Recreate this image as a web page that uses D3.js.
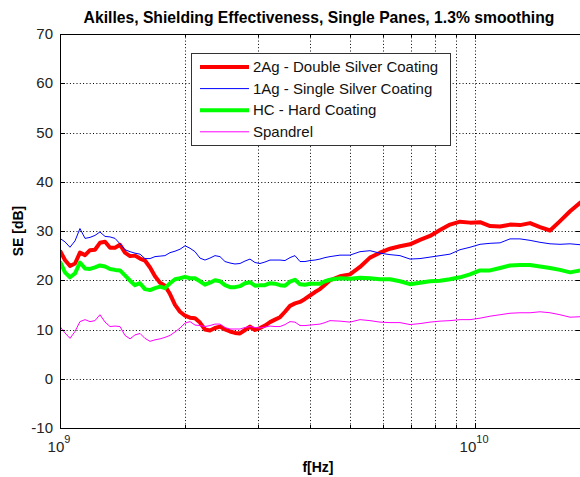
<!DOCTYPE html>
<html>
<head>
<meta charset="utf-8">
<script src="https://cdn.jsdelivr.net/npm/d3@7/dist/d3.min.js"></script>
<style>
  body { margin: 0; background: #fff; }
  svg { display: block; font-family: Arial, "Liberation Sans", sans-serif; }
</style>
</head>
<body>
<div id="chart"></div>
<script>
// frequency samples in GHz (shared by all four traces)
const freqGHz = [1.000, 1.028, 1.057, 1.087, 1.117, 1.149, 1.181, 1.214, 1.248, 1.284,
  1.320, 1.357, 1.395, 1.434, 1.475, 1.516, 1.559, 1.602, 1.648, 1.694,
  1.742, 1.790, 1.841, 1.893, 1.946, 2.001, 2.057, 2.115, 2.174, 2.235,
  2.298, 2.363, 2.429, 2.498, 2.568, 2.640, 2.714, 2.791, 2.869, 2.950,
  3.033, 3.118, 3.206, 3.296, 3.389, 3.484, 3.582, 3.683, 3.786, 3.893,
  4.002, 4.115, 4.230, 4.349, 4.472, 4.727, 4.997, 5.282, 5.583, 5.902,
  6.238, 6.594, 6.971, 7.368, 7.789, 8.233, 8.703, 9.200, 9.724, 10.28,
  10.87, 11.49, 12.14, 12.83, 13.57, 14.34, 15.16, 16.02, 16.94, 18.00];

// SE [dB] per coating
const se2Ag = [26.0, 24.1, 22.9, 23.4, 25.6, 25.1, 26.1, 26.2, 27.6, 27.8,
  26.6, 26.6, 27.2, 25.6, 24.9, 25.0, 24.4, 24.0, 22.6, 20.8,
  19.5, 18.9, 17.2, 15.0, 13.6, 12.8, 12.4, 12.3, 11.4, 10.0,
  9.8, 10.3, 10.6, 10.0, 9.6, 9.3, 9.2, 9.9, 10.6, 9.9,
  10.3, 10.8, 11.5, 12.0, 12.5, 13.6, 14.8, 15.3, 15.6, 16.2,
  16.9, 17.6, 18.2, 19.1, 20.0, 20.8, 21.2, 22.7, 24.6, 25.6,
  26.4, 26.9, 27.3, 28.2, 29.0, 30.2, 31.3, 31.9, 31.7, 31.8,
  31.0, 30.9, 31.3, 31.2, 31.6, 30.8, 30.1, 32.0, 34.0, 35.9];

const se1Ag = [28.5, 27.8, 26.7, 28.0, 30.5, 28.5, 28.7, 29.1, 29.8, 28.9,
  28.8, 28.5, 27.4, 26.2, 25.8, 25.5, 25.3, 24.4, 24.4, 24.8,
  24.9, 25.0, 25.6, 25.9, 26.3, 27.0, 26.5, 25.8, 24.5, 24.1,
  24.5, 25.0, 24.8, 23.8, 23.5, 23.3, 23.4, 23.9, 24.3, 23.6,
  23.4, 23.7, 24.1, 24.1, 24.1, 24.0, 24.6, 25.0, 23.8, 23.8,
  24.0, 24.1, 24.3, 24.6, 24.8, 25.1, 25.1, 25.8, 26.0, 25.5,
  25.2, 25.0, 24.3, 24.4, 24.7, 25.0, 25.3, 26.2, 26.7, 27.3,
  27.5, 27.6, 28.4, 28.4, 28.1, 27.7, 27.4, 27.3, 27.4, 27.2];

const seHC = [23.8, 21.6, 20.6, 21.4, 23.6, 22.4, 22.3, 22.6, 23.0, 22.8,
  22.3, 22.1, 22.0, 21.0, 19.9, 19.0, 19.4, 18.2, 18.0, 18.4,
  18.7, 18.4, 19.4, 20.2, 20.4, 20.7, 20.4, 20.4, 19.8, 19.1,
  19.5, 20.0, 19.8, 19.0, 18.6, 18.6, 18.8, 19.4, 19.6, 18.9,
  19.0, 19.0, 19.4, 19.3, 19.0, 18.9, 19.7, 20.1, 19.2, 19.1,
  19.3, 19.3, 19.3, 19.8, 20.1, 20.4, 20.3, 20.5, 20.4, 20.2,
  20.2, 19.8, 19.2, 19.5, 19.8, 19.9, 20.2, 20.6, 21.2, 22.0,
  22.0, 22.5, 23.0, 23.1, 23.1, 22.8, 22.5, 22.1, 21.6, 22.0];

const seSpandrel = [10.6, 9.3, 8.2, 9.6, 11.6, 12.0, 11.6, 11.8, 13.0, 11.5,
  10.6, 10.7, 10.6, 8.8, 8.1, 8.9, 9.2, 8.2, 7.6, 7.9,
  8.1, 8.4, 8.8, 9.5, 10.3, 11.3, 11.6, 10.9, 10.8, 10.6,
  10.8, 11.1, 11.1, 10.4, 10.1, 10.1, 10.1, 10.4, 10.6, 10.4,
  10.3, 10.5, 10.7, 10.6, 10.6, 11.0, 11.6, 11.5, 10.8, 10.8,
  10.9, 11.0, 11.1, 11.4, 11.8, 11.7, 11.5, 12.0, 11.8, 11.5,
  11.4, 11.4, 11.0, 11.2, 11.5, 11.7, 11.8, 12.0, 12.0, 12.3,
  12.7, 13.0, 13.3, 13.4, 13.4, 13.6, 13.4, 13.0, 12.5, 12.6];

const seriesNames = ["2Ag - Double Silver Coating", "1Ag - Single Silver Coating", "HC - Hard Coating", "Spandrel"];
const yTicks = [-10, 0, 10, 20, 30, 40, 50, 60, 70];
const xGridTicks = [2e9, 3e9, 4e9, 5e9, 6e9, 7e9, 8e9, 9e9, 1e10];
const xMajorTicks = [1e9, 1e10];

const W = 580, H = 477;
const margin = { top: 34, right: -1, bottom: 49, left: 60 };

const svg = d3.select('#chart').append('svg')
    .attr('width', W)
    .attr('height', H);

const x = d3.scaleLog()
    .domain([1e9, 1.8e10])
    .range([margin.left, W - margin.right]);
const y = d3.scaleLinear()
    .domain([-10, 70])
    .range([H - margin.bottom, margin.top]);

const x0 = x.range()[0], x1 = x.range()[1];
const y0 = y.range()[0], y1 = y.range()[1];

// grid (dotted)
const grid = svg.append('g').attr('stroke', '#000').attr('stroke-width', 1)
    .attr('stroke-dasharray', '1,2.3').attr('fill', 'none');
yTicks.filter(v => v > -10 && v < 70).forEach(v => {
    grid.append('line')
        .attr('x1', x0).attr('x2', x1)
        .attr('y1', Math.round(y(v)) + 0.5).attr('y2', Math.round(y(v)) + 0.5);
});
xGridTicks.forEach(v => {
    grid.append('line')
        .attr('x1', Math.round(x(v)) + 0.5).attr('x2', Math.round(x(v)) + 0.5)
        .attr('y1', y1).attr('y2', y0);
});

// traces
svg.append('clipPath').attr('id', 'plot-clip')
    .append('rect').attr('x', x0).attr('y', y1).attr('width', x1 - x0).attr('height', y0 - y1);

const series = [
    { name: seriesNames[0], values: se2Ag, color: '#ff0000', width: 4 },
    { name: seriesNames[1], values: se1Ag, color: '#0000ff', width: 1 },
    { name: seriesNames[2], values: seHC, color: '#00ff00', width: 4 },
    { name: seriesNames[3], values: seSpandrel, color: '#ff00ff', width: 1 }
];

const line = d3.line()
    .x((d, i) => x(freqGHz[i] * 1e9))
    .y(d => y(d));

const traces = svg.append('g').attr('clip-path', 'url(#plot-clip)');
series.forEach(s => {
    traces.append('path')
        .datum(s.values)
        .attr('d', line)
        .attr('fill', 'none')
        .attr('stroke', s.color)
        .attr('stroke-width', s.width)
        .attr('stroke-linejoin', 'round');
});

// axes box
const box = svg.append('g').attr('stroke', '#000').attr('stroke-width', 1).attr('fill', 'none');
box.append('line').attr('x1', x0 + 0.5).attr('x2', x0 + 0.5).attr('y1', y1).attr('y2', y0 + 0.5);
box.append('line').attr('x1', x0).attr('x2', x1).attr('y1', y0 + 0.5).attr('y2', y0 + 0.5);
box.append('line').attr('x1', x0).attr('x2', x1).attr('y1', y1 + 0.5).attr('y2', y1 + 0.5);
box.append('line').attr('x1', x1 - 0.5).attr('x2', x1 - 0.5).attr('y1', y1).attr('y2', y0);

// tick marks (inward)
yTicks.forEach(v => {
    const yy = Math.round(y(v)) + 0.5;
    box.append('line').attr('x1', x0).attr('x2', x0 + 5).attr('y1', yy).attr('y2', yy);
    box.append('line').attr('x1', x1 - 5).attr('x2', x1).attr('y1', yy).attr('y2', yy);
});
xGridTicks.concat(xMajorTicks).forEach(v => {
    const xx = Math.round(x(v)) + 0.5;
    const len = xMajorTicks.includes(v) ? 5 : 3;
    box.append('line').attr('x1', xx).attr('x2', xx).attr('y1', y0).attr('y2', y0 - len);
    box.append('line').attr('x1', xx).attr('x2', xx).attr('y1', y1).attr('y2', y1 + len);
});

// y tick labels
svg.append('g').selectAll('text')
    .data(yTicks)
    .join('text')
    .attr('x', x0 - 7)
    .attr('y', d => y(d) + 5)
    .attr('text-anchor', 'end')
    .attr('font-size', '15px')
    .attr('fill', '#222')
    .text(d => d);

// x tick labels: 10^9, 10^10
xMajorTicks.forEach(v => {
    const t = svg.append('text')
        .attr('x', x(v) - 1)
        .attr('y', 452)
        .attr('text-anchor', 'middle')
        .attr('font-size', '15px')
        .attr('fill', '#222');
    t.append('tspan').text('10');
    t.append('tspan').attr('dy', -9).attr('font-size', '11px').text(Math.round(Math.log10(v)));
});

// titles
svg.append('text')
    .attr('x', 319).attr('y', 23)
    .attr('text-anchor', 'middle')
    .attr('font-size', '15.7px').attr('font-weight', 'bold')
    .text('Akilles, Shielding Effectiveness, Single Panes, 1.3% smoothing');

svg.append('text')
    .attr('x', 318).attr('y', 472)
    .attr('text-anchor', 'middle')
    .attr('font-size', '14px').attr('font-weight', 'bold')
    .text('f[Hz]');

svg.append('text')
    .attr('transform', `translate(23,${(y0 + y1) / 2}) rotate(-90)`)
    .attr('text-anchor', 'middle')
    .attr('font-size', '14px').attr('font-weight', 'bold')
    .text('SE [dB]');

// legend
const legend = svg.append('g').attr('transform', 'translate(191,53)');
legend.append('rect')
    .attr('x', 0.5).attr('y', 0.5)
    .attr('width', 259).attr('height', 92)
    .attr('fill', '#fff').attr('stroke', '#333');
series.forEach((s, i) => {
    const ly = 14 + i * 21.6;
    legend.append('line')
        .attr('x1', 9).attr('x2', 58)
        .attr('y1', ly).attr('y2', ly)
        .attr('stroke', s.color).attr('stroke-width', s.width);
    legend.append('text')
        .attr('x', 62).attr('y', ly + 5)
        .attr('font-size', '15px')
        .attr('fill', '#111')
        .text(s.name);
});
</script>
</body>
</html>
